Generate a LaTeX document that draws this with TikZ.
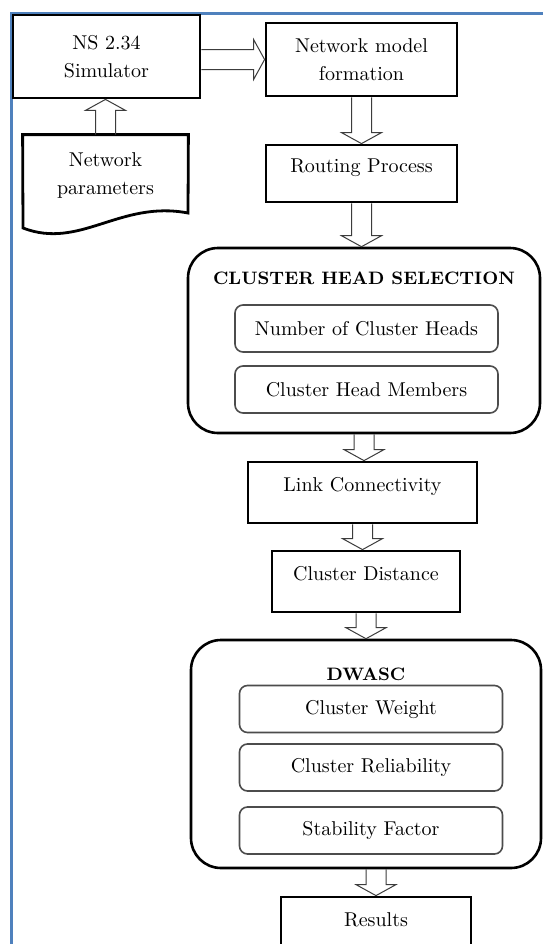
\documentclass[tikz,border=0pt]{standalone}
\usepackage{tikz}
\usetikzlibrary{calc}

\definecolor{frameblue}{RGB}{79,129,189}
\definecolor{arrowgray}{RGB}{60,60,60}

\tikzset{
  stepbox/.style={draw, line width=1.4pt, rectangle, font=\fontsize{10}{14}\selectfont},
  topbox/.style={stepbox, text height=7pt, text depth=8pt},
  groupbox/.style={draw, line width=1.3pt, rounded corners=15pt},
  grouptitle/.style={font=\fontsize{9}{11}\selectfont\bfseries},
  itembox/.style={draw=black!70, line width=0.8pt, rounded corners=4pt,
    minimum width=131.5pt, minimum height=23.5pt, font=\fontsize{10}{12}\selectfont},
  flowarrow/.style={draw=arrowgray, line width=0.5pt, line join=miter,
    to path={($(\tikztostart)!5pt!-90:(\tikztotarget)$)
      -- ($(\tikztotarget)!5.5pt!(\tikztostart)!5pt!90:(\tikztostart)$)
      -- ($(\tikztotarget)!5.5pt!(\tikztostart)!10pt!90:(\tikztostart)$)
      -- (\tikztotarget)
      -- ($(\tikztotarget)!5.5pt!(\tikztostart)!10pt!-90:(\tikztostart)$)
      -- ($(\tikztotarget)!5.5pt!(\tikztostart)!5pt!-90:(\tikztostart)$)
      -- ($(\tikztostart)!5pt!90:(\tikztotarget)$)}}
}

\begin{document}
\begin{tikzpicture}[x=0.5pt,y=-0.5pt]
\useasboundingbox (0,0) rectangle (543,944);
\clip (0,0) rectangle (543,944);
\fill[white] (0,0) rectangle (543,944);
\draw[frameblue, line width=1.5pt] (11,944) -- (11,13) -- (543,13);

% top row
\path (106.5,56.5) node (ns) [stepbox, align=center, minimum width=93.5pt, minimum height=41.5pt] {NS 2.34\\Simulator};
\path (361.5,59.5) node (model) [stepbox, align=center, minimum width=95.5pt, minimum height=36.5pt] {Network model\\formation};
\path (105.5,175) node (params) [align=center, minimum width=82.5pt, minimum height=40pt, font=\fontsize{10}{14}\selectfont] {Network\\parameters};
\draw[line width=1.4pt] (params.north west) -- (params.north east) -- (188,213)
  .. controls (120,200) and (80,250) .. (23,228) -- cycle;
\path (361.5,173.5) node (routing) [topbox, minimum width=95.5pt, minimum height=28.5pt] {Routing Process};

% cluster head selection
\path (364,340.5) node (chs) [groupbox, minimum width=176pt, minimum height=92.5pt] {};
\path (364,278) node (chstitle) [grouptitle] {CLUSTER HEAD SELECTION};
\path (366.5,328.5) node (numheads) [itembox] {Number of Cluster Heads};
\path (366.5,389.5) node (members) [itembox] {Cluster Head Members};

\path (362.5,492.5) node (link) [topbox, minimum width=114.5pt, minimum height=30.5pt] {Link Connectivity};
\path (366,581.5) node (cdist) [topbox, minimum width=94pt, minimum height=30.5pt] {Cluster Distance};

% DWASC
\path (366,754) node (dwasc) [groupbox, minimum width=175pt, minimum height=114pt] {};
\path (366,674) node (dwasctitle) [grouptitle] {DWASC};
\path (371,709) node (weight) [itembox] {Cluster Weight};
\path (371,767.5) node (reliab) [itembox] {Cluster Reliability};
\path (371,830.5) node (stab) [itembox] {Stability Factor};

\path (376,927) node (results) [topbox, minimum width=95pt, minimum height=30pt] {Results};

% block arrows
\draw[flowarrow] (ns.east |- model.west) to (model.west);
\draw[flowarrow] (params.north) to (params.north |- ns.south);
\draw[flowarrow] (model.south) to (routing.north);
\draw[flowarrow] (routing.south) to (routing.south |- chs.north);
\draw[flowarrow] (chs.south) to (chs.south |- link.north);
\draw[flowarrow] (link.south) to (link.south |- cdist.north);
\draw[flowarrow] (cdist.south) to (cdist.south |- dwasc.north);
\draw[flowarrow] (results.north |- dwasc.south) to (results.north);
\end{tikzpicture}
\end{document}
